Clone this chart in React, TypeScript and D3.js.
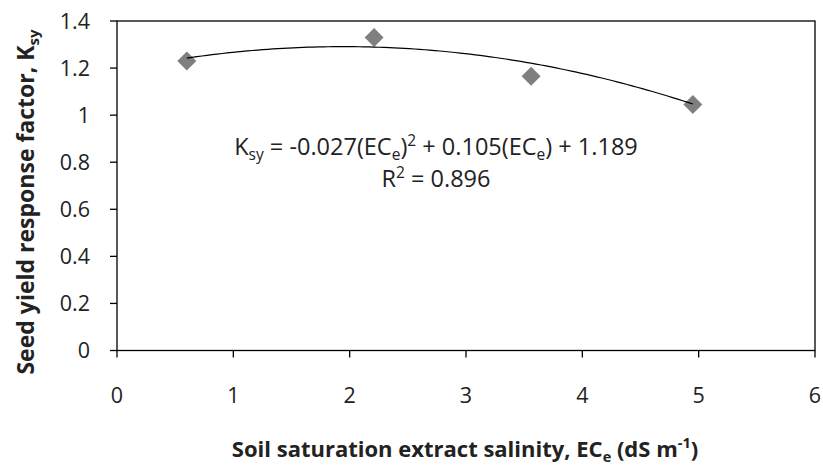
import * as d3 from 'd3';

// axis ticks
const xTicks = [0, 1, 2, 3, 4, 5, 6];
const yTicks = [0, 0.2, 0.4, 0.6, 0.8, 1, 1.2, 1.4];
const yTickLabels = ['0', '0.2', '0.4', '0.6', '0.8', '1', '1.2', '1.4'];

// observed points
const salinity = [0.6, 2.21, 3.56, 4.95];
const ksy = [1.23, 1.33, 1.165, 1.045];

// fitted polynomial (a*x^2 + b*x + c) as printed on the chart
const trendCoefficients = [-0.027, 0.105, 1.189];

const W = 823;
const H = 467;
const FONT = '"Open Sans", "DejaVu Sans", sans-serif';
const AXIS = '#000';

export default function App() {
  const x = d3.scaleLinear().domain([0, 6]).range([117, 815]);
  const y = d3.scaleLinear().domain([0, 1.4]).range([350.5, 21]);

  const [a, b, c] = trendCoefficients;
  const xMin = d3.min(salinity) as number;
  const xMax = d3.max(salinity) as number;
  const trend = d3.range(0, 101).map((i) => {
    const xv = xMin + ((xMax - xMin) * i) / 100;
    return [xv, a * xv * xv + b * xv + c] as [number, number];
  });
  const line = d3.line<[number, number]>()
    .x((d) => x(d[0]))
    .y((d) => y(d[1]));

  // square rotated 45deg -> diamond
  const diamond = d3.symbol().type(d3.symbolSquare).size(180)();

  const x0 = x(0);
  const x1 = x(6);
  const y0 = y(0);
  const y1 = y(1.4);

  return (
    <svg width={W} height={H} style={{ position: 'absolute', left: 0, top: 0, background: '#fff' }}
      fontFamily={FONT}>
      {/* plot frame */}
      <rect x={x0} y={y1} width={x1 - x0} height={y0 - y1} fill="none" stroke={AXIS} strokeWidth={1.3} />

      {yTicks.map((t, i) => (
        <g key={`y${i}`}>
          <line x1={x0 - 7} x2={x0} y1={y(t)} y2={y(t)} stroke={AXIS} strokeWidth={1.3} />
          <text x={90} y={y(t)} dy="0.36em" textAnchor="end" fontSize={21.5} fill="#222">
            {yTickLabels[i]}
          </text>
        </g>
      ))}

      {xTicks.map((t) => (
        <g key={`x${t}`}>
          <line x1={x(t)} x2={x(t)} y1={y0} y2={y0 + 7} stroke={AXIS} strokeWidth={1.3} />
          <text x={x(t)} y={403} textAnchor="middle" fontSize={21.5} fill="#222">{t}</text>
        </g>
      ))}

      {/* markers */}
      {salinity.map((s, i) => (
        <path key={`p${i}`} d={diamond} transform={`translate(${x(s)},${y(ksy[i])}) rotate(45)`}
          fill="#7f7f7f" />
      ))}

      {/* trendline */}
      <path d={line(trend) ?? ''} fill="none" stroke="#000" strokeWidth={1.2} />

      {/* equation */}
      <text x={436} y={155} textAnchor="middle" fontSize={23.5} fill="#222">
        <tspan>K</tspan>
        <tspan fontSize={15.5} dy={5}>sy</tspan>
        <tspan dy={-5}> = -0.027(EC</tspan>
        <tspan fontSize={15.5} dy={5}>e</tspan>
        <tspan dy={-5}>)</tspan>
        <tspan fontSize={15.5} dy={-9}>2</tspan>
        <tspan dy={9}> + 0.105(EC</tspan>
        <tspan fontSize={15.5} dy={5}>e</tspan>
        <tspan dy={-5}>) + 1.189</tspan>
      </text>
      <text x={436} y={187} textAnchor="middle" fontSize={23.5} fill="#222">
        <tspan>R</tspan>
        <tspan fontSize={15.5} dy={-9}>2</tspan>
        <tspan dy={9}> = 0.896</tspan>
      </text>

      {/* axis titles */}
      <text x={465} y={457} textAnchor="middle" fontSize={22} fontWeight="bold" fill="#222">
        <tspan>Soil saturation extract salinity, EC</tspan>
        <tspan fontSize={14.5} dy={5}>e</tspan>
        <tspan dy={-5}> (dS m</tspan>
        <tspan fontSize={14.5} dy={-9}>-1</tspan>
        <tspan dy={9}>)</tspan>
      </text>
      <text transform="translate(34,202) rotate(-90)" textAnchor="middle"
        fontSize={23} fontWeight="bold" fill="#222">
        <tspan>Seed yield response factor, K</tspan>
        <tspan fontSize={15} dy={5}>sy</tspan>
      </text>
    </svg>
  );
}
